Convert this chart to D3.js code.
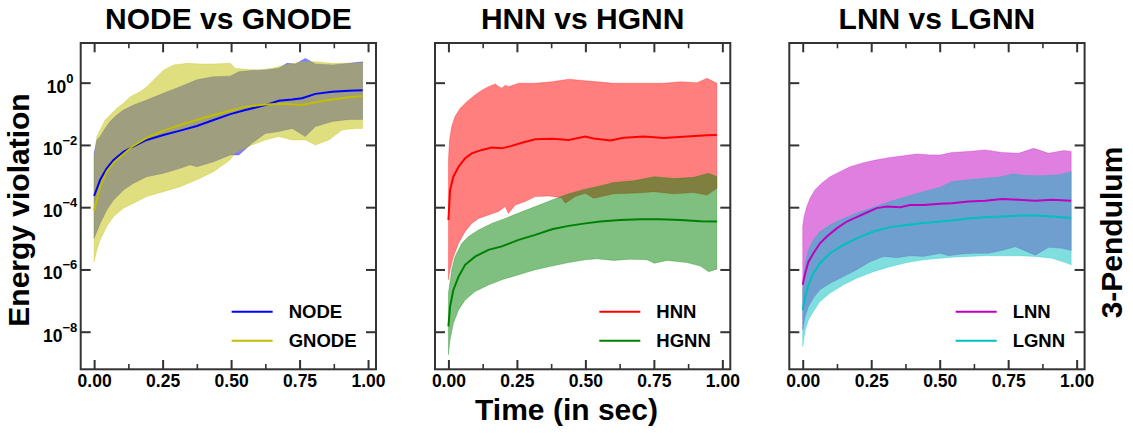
<!DOCTYPE html>
<html>
<head>
<meta charset="utf-8">
<script src="https://cdn.jsdelivr.net/npm/d3@7"></script>
<style>
  body { margin: 0; background: #fff; }
  text { font-family: "Liberation Sans", Arial, sans-serif; font-weight: bold; fill: #000; }
</style>
</head>
<body>
<svg id="chart" width="1133" height="433"></svg>
<script>
// values, energy violation as log10 exponent, [time, log10]
const PANEL_TITLES = ["NODE vs GNODE", "HNN vs HGNN", "LNN vs LGNN"];
const MODEL_NAMES = [["NODE", "GNODE"], ["HNN", "HGNN"], ["LNN", "LGNN"]];
const MODEL_COLORS = [["#0000ff", "#bfbf00"], ["#ff0000", "#008000"], ["#bf00bf", "#00bfbf"]];
const TIME_TICKS = [0, 0.25, 0.5, 0.75, 1.0];
const TIME_TICK_LABELS = ["0.00", "0.25", "0.50", "0.75", "1.00"];
const TIME_MINOR_TICKS = [0.125, 0.375, 0.625, 0.875];
const Y_TICK_EXPONENTS = [0, -2, -4, -6, -8];
const X_LABEL = "Time (in sec)";
const Y_LABEL = "Energy violation";
const ROW_LABEL = "3-Pendulum";

const nodeMean = [[0,-3.64],[0.022,-3.12],[0.046,-2.75],[0.071,-2.48],[0.107,-2.22],[0.144,-2.05],[0.192,-1.84],[0.253,-1.68],[0.314,-1.54],[0.375,-1.39],[0.436,-1.20],[0.497,-1.01],[0.552,-0.88],[0.625,-0.72],[0.674,-0.58],[0.723,-0.54],[0.759,-0.50],[0.808,-0.36],[0.869,-0.29],[0.930,-0.26],[0.98,-0.24]];
const nodeUpper = [[0,-2.27],[0.010,-1.84],[0.022,-1.73],[0.040,-1.47],[0.058,-1.25],[0.083,-1.04],[0.107,-0.88],[0.144,-0.72],[0.192,-0.56],[0.253,-0.34],[0.314,-0.13],[0.375,0.09],[0.436,0.19],[0.497,0.21],[0.528,0.35],[0.576,0.39],[0.625,0.41],[0.674,0.46],[0.704,0.62],[0.735,0.60],[0.771,0.78],[0.808,0.60],[0.869,0.57],[0.930,0.62],[0.98,0.67]];
const nodeLower = [[0,-5.00],[0.022,-4.52],[0.046,-4.09],[0.071,-3.77],[0.107,-3.45],[0.144,-3.23],[0.192,-3.02],[0.253,-2.91],[0.314,-2.75],[0.351,-2.64],[0.375,-2.70],[0.436,-2.54],[0.497,-2.32],[0.528,-2.32],[0.576,-1.95],[0.625,-1.63],[0.674,-1.57],[0.723,-1.47],[0.771,-1.73],[0.808,-1.41],[0.869,-1.25],[0.930,-1.18],[0.98,-1.18]];

const gnodeMean = [[0,-4.11],[0.022,-3.34],[0.046,-2.86],[0.071,-2.58],[0.107,-2.30],[0.144,-2.02],[0.192,-1.77],[0.253,-1.54],[0.314,-1.36],[0.375,-1.20],[0.436,-1.04],[0.497,-0.90],[0.552,-0.77],[0.625,-0.70],[0.698,-0.68],[0.759,-0.72],[0.808,-0.63],[0.869,-0.54],[0.930,-0.47],[0.98,-0.43]];
const gnodeUpper = [[0,-2.43],[0.010,-1.73],[0.022,-1.52],[0.040,-1.20],[0.058,-1.04],[0.083,-0.82],[0.107,-0.66],[0.132,-0.45],[0.168,-0.29],[0.192,-0.13],[0.229,0.19],[0.253,0.40],[0.290,0.57],[0.339,0.62],[0.387,0.60],[0.436,0.60],[0.497,0.62],[0.515,0.46],[0.552,0.43],[0.601,0.41],[0.650,0.46],[0.698,0.57],[0.759,0.67],[0.808,0.67],[0.869,0.62],[0.930,0.62],[0.98,0.64]];
const gnodeLower = [[0,-5.75],[0.010,-5.37],[0.022,-5.05],[0.046,-4.62],[0.071,-4.30],[0.107,-4.03],[0.144,-3.87],[0.192,-3.66],[0.253,-3.50],[0.314,-3.34],[0.375,-3.12],[0.436,-2.86],[0.497,-2.48],[0.515,-2.25],[0.552,-2.10],[0.576,-2.00],[0.625,-1.84],[0.674,-1.73],[0.723,-1.84],[0.771,-1.84],[0.808,-2.00],[0.857,-1.84],[0.905,-1.52],[0.954,-1.47],[0.98,-1.47]];

const hnnMean = [[0,-4.41],[0.006,-3.45],[0.018,-3.02],[0.037,-2.70],[0.061,-2.43],[0.085,-2.27],[0.122,-2.16],[0.158,-2.08],[0.195,-2.11],[0.231,-2.03],[0.268,-1.93],[0.317,-1.82],[0.378,-1.80],[0.439,-1.84],[0.500,-1.73],[0.530,-1.79],[0.591,-1.86],[0.640,-1.77],[0.713,-1.73],[0.786,-1.78],[0.871,-1.73],[0.944,-1.69],[0.98,-1.68]];
const hnnUpper = [[0,-2.48],[0.004,-1.84],[0.012,-1.41],[0.024,-1.09],[0.043,-0.82],[0.067,-0.61],[0.097,-0.40],[0.122,-0.24],[0.146,-0.13],[0.171,-0.04],[0.183,-0.12],[0.195,-0.18],[0.207,-0.08],[0.219,-0.13],[0.256,-0.02],[0.317,-0.02],[0.378,0.03],[0.439,0.11],[0.500,0.06],[0.542,0.03],[0.603,-0.02],[0.664,-0.02],[0.725,-0.02],[0.786,-0.02],[0.847,0.03],[0.908,0.00],[0.944,0.14],[0.98,-0.02]];
const hnnLower = [[0,-6.33],[0.006,-6.01],[0.018,-5.59],[0.037,-5.16],[0.061,-4.78],[0.085,-4.52],[0.110,-4.36],[0.146,-4.25],[0.183,-4.14],[0.207,-3.98],[0.219,-4.20],[0.244,-3.93],[0.280,-3.82],[0.317,-3.66],[0.366,-3.64],[0.414,-3.70],[0.426,-3.87],[0.463,-3.66],[0.500,-3.55],[0.530,-3.71],[0.603,-3.57],[0.664,-3.55],[0.713,-3.53],[0.749,-3.50],[0.823,-3.57],[0.896,-3.53],[0.944,-3.61],[0.98,-3.39]];

const hgnnMean = [[0,-7.83],[0.006,-7.19],[0.018,-6.66],[0.037,-6.23],[0.061,-5.85],[0.097,-5.59],[0.146,-5.37],[0.195,-5.26],[0.256,-5.05],[0.317,-4.89],[0.378,-4.71],[0.439,-4.60],[0.500,-4.52],[0.554,-4.46],[0.627,-4.41],[0.701,-4.39],[0.774,-4.39],[0.847,-4.41],[0.920,-4.45],[0.98,-4.46]];
const hgnnUpper = [[0,-6.76],[0.012,-6.01],[0.024,-5.59],[0.049,-5.16],[0.073,-4.94],[0.110,-4.73],[0.158,-4.52],[0.207,-4.36],[0.256,-4.19],[0.317,-3.98],[0.378,-3.77],[0.439,-3.57],[0.500,-3.42],[0.542,-3.34],[0.603,-3.21],[0.676,-3.15],[0.752,-3.02],[0.823,-3.08],[0.896,-3.04],[0.950,-2.91],[0.98,-3.02]];
const hgnnLower = [[0,-8.74],[0.006,-8.26],[0.018,-7.73],[0.037,-7.30],[0.061,-6.98],[0.097,-6.71],[0.146,-6.50],[0.195,-6.33],[0.256,-6.17],[0.317,-6.01],[0.378,-5.89],[0.439,-5.78],[0.500,-5.69],[0.542,-5.66],[0.603,-5.71],[0.664,-5.67],[0.725,-5.69],[0.752,-5.80],[0.798,-5.71],[0.871,-5.78],[0.920,-5.89],[0.950,-6.07],[0.98,-5.99]];

const lnnMean = [[0,-6.49],[0.009,-6.12],[0.021,-5.75],[0.039,-5.48],[0.063,-5.16],[0.088,-4.94],[0.124,-4.68],[0.161,-4.46],[0.197,-4.32],[0.234,-4.17],[0.270,-4.03],[0.307,-3.98],[0.356,-4.00],[0.392,-3.93],[0.441,-3.93],[0.502,-3.89],[0.544,-3.87],[0.605,-3.82],[0.666,-3.79],[0.727,-3.74],[0.788,-3.76],[0.849,-3.79],[0.910,-3.76],[0.98,-3.79]];
const lnnUpper = [[0,-4.62],[0.005,-4.30],[0.015,-3.98],[0.027,-3.71],[0.045,-3.44],[0.069,-3.23],[0.100,-3.02],[0.136,-2.86],[0.173,-2.70],[0.222,-2.57],[0.270,-2.48],[0.319,-2.40],[0.368,-2.35],[0.417,-2.29],[0.465,-2.32],[0.502,-2.32],[0.544,-2.24],[0.605,-2.21],[0.666,-2.16],[0.727,-2.24],[0.788,-2.27],[0.843,-2.11],[0.898,-2.27],[0.953,-2.18],[0.98,-2.21]];
const lnnLower = [[0,-7.94],[0.009,-7.51],[0.021,-7.19],[0.039,-6.92],[0.063,-6.65],[0.100,-6.44],[0.149,-6.23],[0.197,-6.01],[0.246,-5.75],[0.295,-5.58],[0.344,-5.62],[0.392,-5.56],[0.441,-5.58],[0.502,-5.48],[0.532,-5.56],[0.581,-5.50],[0.630,-5.48],[0.679,-5.48],[0.727,-5.39],[0.776,-5.27],[0.849,-5.54],[0.898,-5.29],[0.947,-5.32],[0.98,-5.39]];

const lgnnMean = [[0,-7.30],[0.009,-6.87],[0.021,-6.49],[0.039,-6.12],[0.063,-5.80],[0.100,-5.48],[0.149,-5.21],[0.197,-5.00],[0.258,-4.78],[0.319,-4.64],[0.380,-4.57],[0.441,-4.51],[0.502,-4.46],[0.544,-4.43],[0.605,-4.36],[0.666,-4.32],[0.727,-4.30],[0.788,-4.27],[0.849,-4.27],[0.910,-4.30],[0.98,-4.35]];
const lgnnUpper = [[0,-6.65],[0.009,-5.80],[0.021,-5.37],[0.039,-5.05],[0.063,-4.78],[0.100,-4.57],[0.136,-4.41],[0.197,-4.19],[0.258,-4.00],[0.319,-3.82],[0.380,-3.66],[0.441,-3.50],[0.502,-3.36],[0.544,-3.18],[0.605,-3.12],[0.666,-3.07],[0.727,-3.02],[0.764,-2.93],[0.813,-2.98],[0.874,-2.99],[0.935,-2.96],[0.98,-2.86]];
const lgnnLower = [[0,-8.47],[0.009,-7.94],[0.021,-7.62],[0.039,-7.35],[0.063,-7.03],[0.100,-6.76],[0.149,-6.49],[0.197,-6.28],[0.258,-6.07],[0.319,-5.91],[0.380,-5.78],[0.441,-5.69],[0.502,-5.64],[0.544,-5.61],[0.605,-5.58],[0.666,-5.56],[0.727,-5.56],[0.788,-5.56],[0.849,-5.58],[0.910,-5.64],[0.959,-5.78],[0.98,-5.85]];

const SERIES = [
    [[nodeMean, nodeUpper, nodeLower], [gnodeMean, gnodeUpper, gnodeLower]],
    [[hnnMean, hnnUpper, hnnLower], [hgnnMean, hgnnUpper, hgnnLower]],
    [[lnnMean, lnnUpper, lnnLower], [lgnnMean, lgnnUpper, lgnnLower]]
];


const margins = { top: 43, left: 80.7 };
const PANEL_W = 295.3;
const PANEL_H = 326.3;
const GAP = 59;
const AXIS_COLOR = '#333';

const svg = d3.select('#chart');

const y = d3.scaleLog()
    .domain([Math.pow(10, -9.207), Math.pow(10, 1.274)])
    .range([margins.top + PANEL_H, margins.top]);

PANEL_TITLES.forEach((title, i) => {
    const left = margins.left + i * (PANEL_W + GAP);
    const x = d3.scaleLinear().domain([-0.049, 1.029]).range([left, left + PANEL_W]);

    const line = d3.line()
        .x(d => x(d[0]))
        .y(d => y(Math.pow(10, d[1])));

    const g = svg.append('g');

    // shaded bands, upper edge forward then lower edge back
    SERIES[i].forEach((s, j) => {
        const pts = s[1].concat(s[2].slice().reverse());
        g.append('path')
            .attr('d', line(pts) + 'Z')
            .attr('fill', MODEL_COLORS[i][j])
            .attr('fill-opacity', 0.5)
            .attr('stroke', MODEL_COLORS[i][j])
            .attr('stroke-opacity', 0.35)
            .attr('stroke-width', 0.8);
    });

    SERIES[i].forEach((s, j) => {
        g.append('path')
            .attr('d', line(s[0]))
            .attr('fill', 'none')
            .attr('stroke', MODEL_COLORS[i][j])
            .attr('stroke-width', 2);
    });

    // ticks point inward on all four sides
    const bottom = margins.top + PANEL_H;
    const right = left + PANEL_W;
    const tickAxis = (axis, tx, ty) => {
        const a = g.append('g')
            .attr('transform', 'translate(' + tx + ',' + ty + ')')
            .call(axis);
        a.select('.domain').remove();
        a.selectAll('line').attr('stroke', AXIS_COLOR).attr('stroke-width', 2);
        return a;
    };

    const xb = tickAxis(d3.axisBottom(x).tickValues(TIME_TICKS).tickSize(-9.3).tickPadding(5.5)
        .tickFormat((d, k) => TIME_TICK_LABELS[k]), 0, bottom);
    xb.selectAll('text')
        .attr('font-size', 17.5)
        .attr('font-family', '"Liberation Sans", Arial, sans-serif')
        .attr('font-weight', 'bold')
        .attr('fill', '#000');
    tickAxis(d3.axisBottom(x).tickValues(TIME_MINOR_TICKS).tickSize(-5.3).tickFormat(''), 0, bottom)
        .selectAll('line').attr('stroke-width', 1.6);
    tickAxis(d3.axisTop(x).tickValues(TIME_TICKS).tickSize(-9.3).tickFormat(''), 0, margins.top);
    tickAxis(d3.axisTop(x).tickValues(TIME_MINOR_TICKS).tickSize(-5.3).tickFormat(''), 0, margins.top)
        .selectAll('line').attr('stroke-width', 1.6);

    const yVals = Y_TICK_EXPONENTS.map(e => Math.pow(10, e));
    tickAxis(d3.axisLeft(y).tickValues(yVals).tickSize(-10).tickFormat(''), left, 0);
    tickAxis(d3.axisRight(y).tickValues(yVals).tickSize(-10).tickFormat(''), right, 0);

    if (i === 0) {
        Y_TICK_EXPONENTS.forEach(e => {
            const ty = y(Math.pow(10, e));
            const t = svg.append('text')
                .attr('x', left - 20.5)
                .attr('y', ty + 10)
                .attr('text-anchor', 'middle')
                .attr('font-size', 17.5);
            t.append('tspan').text('10');
            t.append('tspan')
                .attr('font-size', 13)
                .attr('dy', -10)
                .text(e === 0 ? '0' : '\u2212' + Math.abs(e));
        });
    }

    // frame
    g.append('rect')
        .attr('x', left).attr('y', margins.top)
        .attr('width', PANEL_W).attr('height', PANEL_H)
        .attr('fill', 'none')
        .attr('stroke', AXIS_COLOR)
        .attr('stroke-width', 2);

    svg.append('text')
        .attr('x', left + PANEL_W / 2)
        .attr('y', 29.3)
        .attr('text-anchor', 'middle')
        .attr('font-size', 30)
        .text(title);

    // legend, right aligned inside the panel
    const leg = svg.append('g');
    const labels = MODEL_NAMES[i].map((name, j) => leg.append('text')
        .attr('y', 311.7 + j * 29 + 6.6)
        .attr('font-size', 18.5)
        .text(name));
    const maxLen = d3.max(labels, l => l.node().getComputedTextLength());
    const textX = right - 19.5 - maxLen;
    labels.forEach((l, j) => {
        l.attr('x', textX);
        leg.append('line')
            .attr('x1', textX - 57).attr('x2', textX - 16)
            .attr('y1', 311.7 + j * 29).attr('y2', 311.7 + j * 29)
            .attr('stroke', MODEL_COLORS[i][j])
            .attr('stroke-width', 2);
    });
});

svg.append('text')
    .attr('transform', 'translate(28.5,210) rotate(-90)')
    .attr('text-anchor', 'middle')
    .attr('font-size', 30)
    .text(Y_LABEL);

svg.append('text')
    .attr('x', 566.5)
    .attr('y', 419.8)
    .attr('text-anchor', 'middle')
    .attr('font-size', 30)
    .text(X_LABEL);

svg.append('text')
    .attr('transform', 'translate(1121.5,232.5) rotate(-90)')
    .attr('text-anchor', 'middle')
    .attr('font-size', 30)
    .text(ROW_LABEL);
</script>
</body>
</html>
